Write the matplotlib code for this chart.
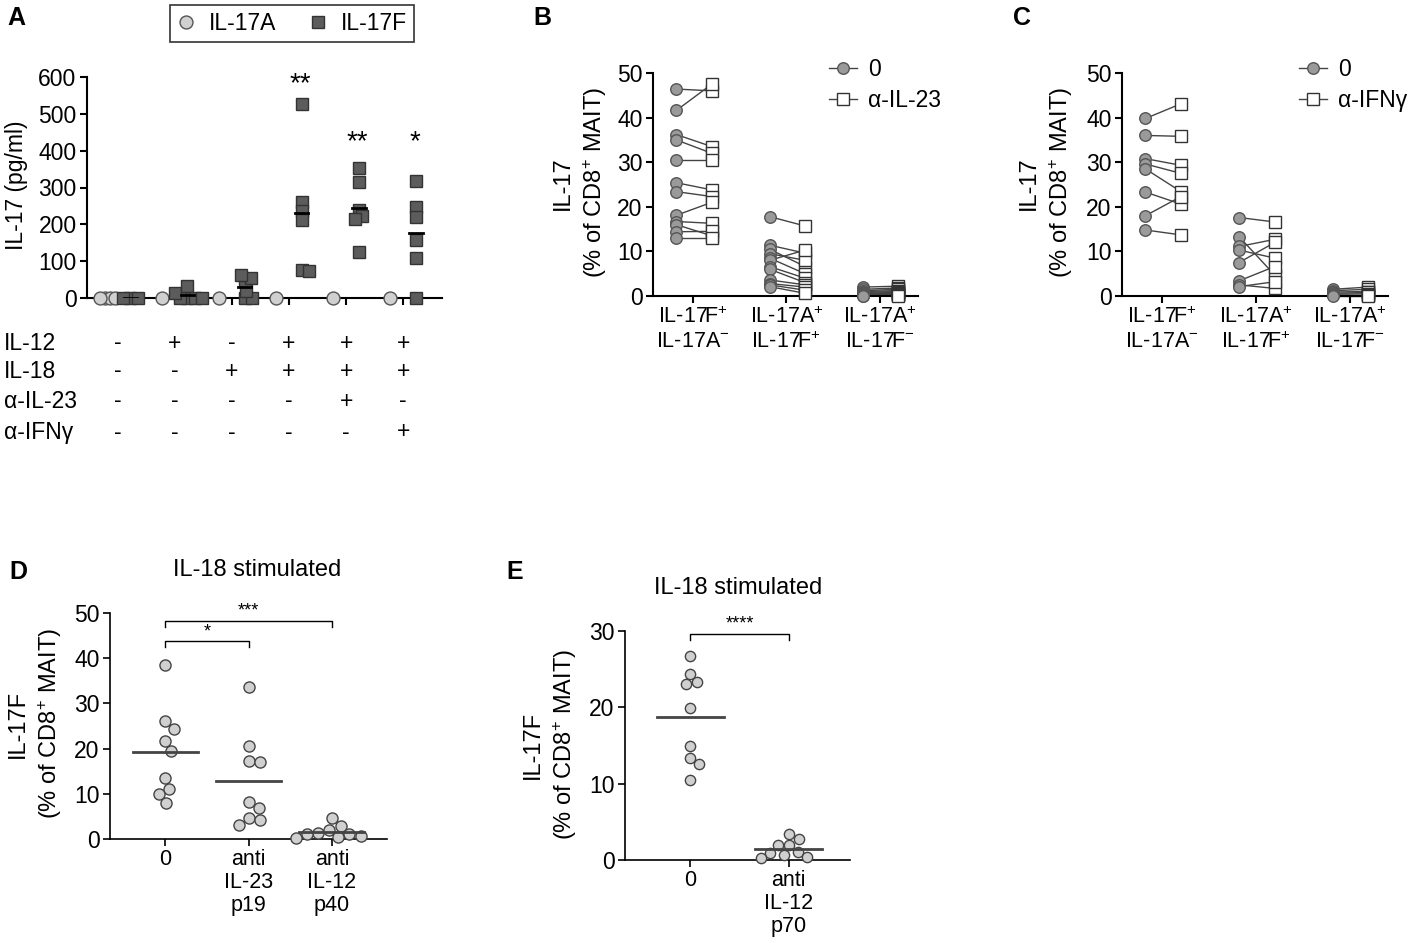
import numpy as np
import matplotlib
matplotlib.use("Agg")
import matplotlib.pyplot as plt
from matplotlib.lines import Line2D

plt.rcParams['font.family'] = ['Liberation Sans', 'DejaVu Sans']
plt.rcParams['mathtext.fontset'] = 'custom'
plt.rcParams['mathtext.rm'] = 'Liberation Sans'
plt.rcParams['mathtext.it'] = 'Liberation Sans'
plt.rcParams['mathtext.bf'] = 'Liberation Sans:bold'
plt.rcParams['mathtext.default'] = 'regular'

# --------------------------------------------------------------------------
# data
# --------------------------------------------------------------------------
# panel A : IL-17 in supernatant (pg/ml), 6 culture conditions
a_il17a = [[0, 0, 0, 0], [0], [0], [0], [0], [0]]
a_il17f = [[0, 0, 0],
           [0, 0, 0, 0, 14, 32],
           [0, 0, 20, 45, 55, 63],
           [528, 260, 235, 212, 76, 72],
           [354, 316, 240, 222, 215, 124],
           [318, 248, 221, 158, 108, 0]]
a_rows = ['IL-12', 'IL-18', 'α-IL-23', 'α-IFNγ']
a_signs = [['-', '+', '-', '+', '+', '+'],
           ['-', '-', '+', '+', '+', '+'],
           ['-', '-', '-', '-', '+', '-'],
           ['-', '-', '-', '-', '-', '+']]
a_stars = ['', '', '', '**', '**', '*']
a_star_y = [0, 0, 0, 562, 405, 405]

# panel B : paired, control vs anti-IL-23
b_cats = ['IL-17F$^{+}$\nIL-17A$^{-}$', 'IL-17A$^{+}$\nIL-17F$^{+}$',
          'IL-17A$^{+}$\nIL-17F$^{-}$']
b_ctrl = [[46.4, 41.6, 36.2, 35.0, 30.5, 25.4, 23.4, 18.1, 16.7, 16.0, 14.4, 13.1],
          [17.8, 11.4, 10.5, 9.5, 8.5, 8.0, 6.6, 6.0, 3.6, 2.8, 2.5, 2.1],
          [2.0, 1.5, 1.2, 1.0, 0.8, 0.6, 0.5, 0.4, 0.3, 0.2, 0.1, 0.0]]
b_il23 = [[46.0, 47.5, 33.5, 32.0, 30.5, 23.8, 22.3, 21.0, 16.3, 13.5, 14.5, 13.1],
          [15.7, 9.6, 6.6, 8.0, 5.0, 10.3, 4.0, 3.0, 2.5, 2.0, 1.3, 0.6],
          [2.2, 1.8, 1.5, 1.2, 1.0, 0.8, 0.6, 0.5, 0.4, 0.3, 0.2, 0.1]]

# panel C : paired, control vs anti-IFNg
c_ctrl = [[39.8, 36.0, 30.8, 29.6, 28.5, 23.3, 18.0, 14.8],
          [17.6, 13.3, 11.1, 10.3, 7.5, 3.4, 2.5, 2.1],
          [1.5, 1.2, 0.9, 0.6, 0.4, 0.3, 0.2, 0.1]]
c_ifng = [[43.1, 35.8, 29.3, 27.5, 23.4, 20.6, 22.3, 13.7],
          [16.6, 4.7, 12.7, 8.5, 12.0, 6.6, 1.7, 3.2],
          [2.0, 1.5, 1.0, 0.8, 0.5, 0.3, 0.2, 0.1]]

# panel D / E : IL-18 stimulated
d_cats = ['0', 'anti\nIL-23\np19', 'anti\nIL-12\np40']
d_vals = [[38.6, 26.0, 24.3, 21.6, 19.4, 13.5, 11.1, 10.0, 8.0],
          [33.6, 20.6, 17.3, 17.0, 8.1, 6.9, 4.6, 4.3, 3.2],
          [4.6, 2.9, 2.1, 1.3, 1.2, 1.0, 0.6, 0.4, 0.2]]
d_sig = [(0, 1, 43.7, '*'), (0, 2, 48.3, '***')]

e_cats = ['0', 'anti\nIL-12\np70']
e_vals = [[26.7, 24.4, 23.3, 23.0, 19.9, 15.0, 13.4, 12.6, 10.5],
          [3.4, 2.8, 1.9, 1.9, 1.1, 0.9, 0.65, 0.45, 0.2]]
e_sig = [(0, 1, 29.6, '****')]

# --------------------------------------------------------------------------
# helpers
# --------------------------------------------------------------------------
W, H = 1417, 943
FS = 16.5     # y tick labels / axis labels
FX = 15.5     # x tick labels
fig = plt.figure(figsize=(W / 100, H / 100), dpi=100)


def axes_px(l, t, r, b):
    return fig.add_axes([l / W, 1 - b / H, (r - l) / W, (b - t) / H])


def ftext(x, y, s, **kw):
    fig.text(x / W, 1 - y / H, s, **kw)


def style(ax, lw=1.5):
    for s in ['top', 'right']:
        ax.spines[s].set_visible(False)
    for s in ['left', 'bottom']:
        ax.spines[s].set_linewidth(lw)
    ax.tick_params(direction='out', length=5, width=lw, labelsize=FS, pad=2.5)


def swarm(ax, xc, vals, d):
    """beeswarm x positions so that markers of d px do not overlap"""
    tr = ax.transData
    x0 = tr.transform((xc, 0))[0]
    ys = [tr.transform((xc, v))[1] for v in vals]
    placed, offs = [], []
    for y in ys:
        cands = [0.0]
        for px, py in placed:
            dy = abs(py - y)
            if dy < d:
                dx = np.sqrt(d * d - dy * dy)
                cands += [px + dx, px - dx]
        cands.sort(key=abs)
        for c in cands:
            if all((c - px) ** 2 + (y - py) ** 2 >= d * d - 1e-6 for px, py in placed):
                break
        placed.append((c, y))
        offs.append(c)
    inv = tr.inverted()
    return [inv.transform((x0 + c, y))[0] for c, y in zip(offs, ys)]


LIGHT, MID, DARK = '#d0d0d0', '#9a9a9a', '#5c5c5c'

# --------------------------------------------------------------------------
# A
# --------------------------------------------------------------------------
ax = axes_px(87, 77, 442, 298)
ax.set_xlim(-0.54, 5.68)
ax.set_ylim(0, 600)
style(ax)
ax.set_yticks(range(0, 601, 100))
ax.set_xticks(range(6))
ax.set_xticklabels([])
for i in range(6):
    xs = swarm(ax, i - 0.23, a_il17a[i], 5)
    ax.plot(xs, a_il17a[i], 'o', ms=9.3, mfc=LIGHT, mec='#555555', mew=1,
            clip_on=False, zorder=3)
    xs = swarm(ax, i + 0.22, a_il17f[i], 7.5)
    ax.plot(xs, a_il17f[i], 's', ms=9.3, mfc=DARK, mec='#333333', mew=1,
            clip_on=False, zorder=3)
    m = np.mean(a_il17f[i])
    ax.plot([i + 0.1, i + 0.34], [m, m], color='black', lw=2, zorder=4)
    if a_stars[i]:
        ax.text(i + 0.2, a_star_y[i], a_stars[i], ha='center', va='baseline',
                fontsize=20)
ftext(17, 185, 'IL-17 (pg/ml)', rotation=90, ha='center', va='center', fontsize=FS)
tr = ax.get_xaxis_transform()
for r, (lab, row) in enumerate(zip(a_rows, a_signs)):
    ypx = [343, 371, 401, 432][r]
    ya = (298 - ypx) / 221
    ftext(4, ypx, lab, ha='left', va='center', fontsize=FS)
    for i, s in enumerate(row):
        ax.text(i, ya, s, transform=tr, ha='center', va='center', fontsize=FS)
hA = [Line2D([], [], ls='none', marker='o', ms=9.3, mfc=LIGHT, mec='#555555'),
      Line2D([], [], ls='none', marker='s', ms=9.3, mfc=DARK, mec='#333333')]
lg = fig.legend(hA, ['IL-17A', 'IL-17F'], loc='center', ncol=2,
                bbox_to_anchor=(292 / W, 1 - 23.5 / H), fontsize=FS,
                fancybox=False, edgecolor='black', handlelength=0.8,
                handletextpad=0.6, columnspacing=1.4, borderpad=0.3)
lg.get_frame().set_linewidth(1.2)


# --------------------------------------------------------------------------
# B and C
# --------------------------------------------------------------------------
def paired(ax, ctrl, trt):
    ax.set_xlim(-0.43, 2.41)
    ax.set_ylim(0, 50)
    style(ax)
    ax.set_yticks(range(0, 51, 10))
    ax.set_xticks(range(3))
    ax.set_xticklabels(b_cats, fontsize=FX, linespacing=1.2)
    for i in range(3):
        for a, b in zip(ctrl[i], trt[i]):
            ax.plot([i - 0.18, i + 0.2], [a, b], color='#444444', lw=1, zorder=2,
                    clip_on=False)
        ax.plot([i - 0.18] * len(ctrl[i]), ctrl[i], 'o', ms=8.3, mfc=MID,
                mec='#555555', mew=1, zorder=3, clip_on=False)
        ax.plot([i + 0.2] * len(trt[i]), trt[i], 's', ms=8.8, mfc='white',
                mec='#333333', mew=1, zorder=3, clip_on=False)
    h = [Line2D([], [], color='#444444', lw=1, marker='o', ms=8.3, mfc=MID, mec='#555555'),
         Line2D([], [], color='#444444', lw=1, marker='s', ms=8.8, mfc='white', mec='#333333')]
    return h


ax = axes_px(653, 73, 918, 296)
h = paired(ax, b_ctrl, b_il23)
fig.legend(h, ['0', 'α-IL-23'], loc='upper left', bbox_to_anchor=(829 / W, 1 - 58 / H),
           frameon=False, fontsize=FS, handlelength=1.2, handletextpad=0.5,
           labelspacing=0.35, borderpad=0, borderaxespad=0)
ftext(580, 183, 'IL-17\n(% of CD8$^{+}$ MAIT)', rotation=90, ha='center',
      va='center', fontsize=FS + 0.5, linespacing=1.35)

ax = axes_px(1122, 73, 1388, 296)
h = paired(ax, c_ctrl, c_ifng)
fig.legend(h, ['0', 'α-IFNγ'], loc='upper left', bbox_to_anchor=(1299 / W, 1 - 58 / H),
           frameon=False, fontsize=FS, handlelength=1.2, handletextpad=0.5,
           labelspacing=0.35, borderpad=0, borderaxespad=0)
ftext(1046, 183, 'IL-17\n(% of CD8$^{+}$ MAIT)', rotation=90, ha='center',
      va='center', fontsize=FS + 0.5, linespacing=1.35)


# --------------------------------------------------------------------------
# D and E
# --------------------------------------------------------------------------
def dots(ax, vals, cats, ymax, step, sig, half, ms):
    style(ax, lw=1.2)
    ax.set_yticks(range(0, ymax + 1, step))
    ax.set_xticks(range(len(cats)))
    ax.set_xticklabels(cats, fontsize=FX, linespacing=1.1)
    for i, v in enumerate(vals):
        xs = swarm(ax, i, v, ms * 100 / 72 + 0.5)
        ax.plot(xs, v, 'o', ms=ms, mfc=LIGHT, mec='#444444', mew=1, zorder=3,
                clip_on=False)
        m = np.mean(v)
        ax.plot([i - half, i + half], [m, m], color='#444444', lw=2, zorder=4)
    for a, b, y, s in sig:
        leg = ymax * 0.026
        ax.plot([a, a, b, b], [y - leg, y, y, y - leg], color='black', lw=1,
                clip_on=False)
        ax.text((a + b) / 2, y + ymax * 0.005, s, ha='center', va='bottom',
                fontsize=13)


ax = axes_px(110, 613, 387, 839)
ax.set_xlim(-0.66, 2.66)
ax.set_ylim(0, 50)
dots(ax, d_vals, d_cats, 50, 10, d_sig, 0.39, 8)
ftext(257, 570, 'IL-18 stimulated', ha='center', va='center', fontsize=17)
ftext(35, 724, 'IL-17F\n(% of CD8$^{+}$ MAIT)', rotation=90, ha='center',
      va='center', fontsize=FS + 0.5, linespacing=1.35)

ax = axes_px(625, 631, 850, 860)
ax.set_xlim(-0.66, 1.62)
ax.set_ylim(0, 30)
dots(ax, e_vals, e_cats, 30, 10, e_sig, 0.34, 7.4)
ftext(738, 588, 'IL-18 stimulated', ha='center', va='center', fontsize=17)
ftext(550, 745, 'IL-17F\n(% of CD8$^{+}$ MAIT)', rotation=90, ha='center',
      va='center', fontsize=FS + 0.5, linespacing=1.35)

# panel letters
for x, y, s in [(16, 18, 'A'), (542, 18, 'B'), (1022, 18, 'C'),
                (18, 572, 'D'), (515, 572, 'E')]:
    ftext(x, y, s, ha='center', va='center', fontsize=18, fontweight='bold')

fig.savefig('out.png', dpi=100)
